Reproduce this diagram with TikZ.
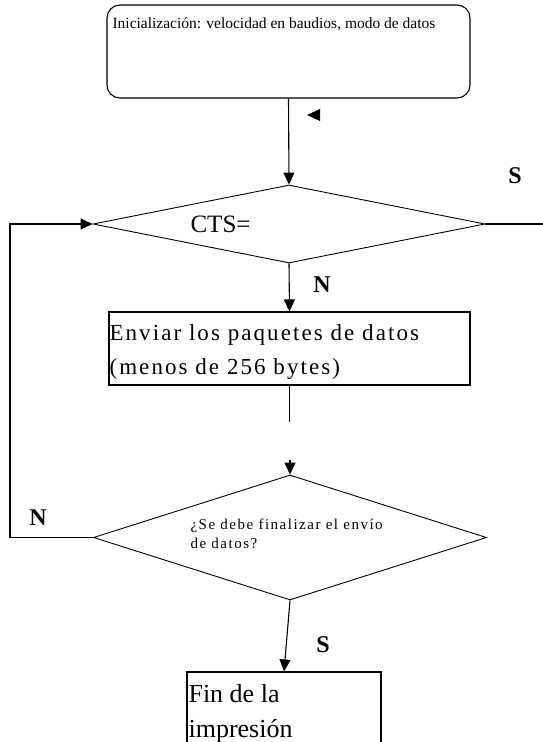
\documentclass[tikz,border=0pt]{standalone}
\usepackage{fontspec}
\setmainfont{Liberation Serif}
\usetikzlibrary{shapes.geometric,arrows.meta}
\newcommand\fsz[2]{\fontsize{#1}{#2}\selectfont}
\begin{document}
\begin{tikzpicture}[x=1pt,y=-1pt,
  line width=1.1pt,
  arr/.style={-{Triangle[length=12pt,width=11pt]}},
  dia/.style={draw, diamond, inner sep=0pt, line width=0.9pt},
  boxr/.style={draw, rectangle, inner sep=0pt},
  lbl/.style={font=\fsz{24}{24}\bfseries, inner sep=0pt},
  txt/.style={inner sep=0pt, anchor=base west, align=left}]
\useasboundingbox (0,0) rectangle (543,742);
\begin{scope}
\clip (0,0) rectangle (543,742);
% nodes
\node[boxr, rounded corners=13pt, minimum width=363pt, minimum height=93pt] (tb) at (288.5,51.5) {};
\node[txt, font=\fsz{15.5}{18}] (tbt) at (112,28) {Inicialización: velocidad en baudios, modo de datos};
\node[dia, minimum width=392pt, minimum height=78pt] (d1) at (289,224) {};
\node[txt, font=\fsz{25}{25}] (d1t) at (190,232) {CTS=};
\node[boxr, minimum width=361pt, minimum height=73pt] (b2) at (289.5,348.5) {};
\node[txt, font=\fsz{23}{34}\addfontfeature{LetterSpace=9}] (b2t) at (109,374) {Enviar los paquetes de datos\\(menos de 256 bytes)};
\node[dia, minimum width=393pt, minimum height=125pt] (d2) at (290,537.5) {};
\node[txt, font=\fsz{15}{19}\addfontfeature{LetterSpace=10}] (d2t) at (190,548) {¿Se debe finalizar el envío\\de datos?};
\node[boxr, minimum width=194pt, minimum height=88pt] (b3) at (284,716) {};
\node[txt, font=\fsz{26}{35}] (b3t) at (188,737) {Fin de la\\impresión};
% labels
\node[lbl] (s1) at (515,176) {S};
\node[lbl] (n1) at (322,285) {N};
\node[lbl] (n2) at (38,518) {N};
\node[lbl] (s2) at (323,645) {S};
% coordinates
\coordinate (rend) at (543,224);
\coordinate (b2end) at (289.5,422);
\coordinate (d2in) at (290,460);
\coordinate (lp) at (10,537.5);
% connectors
\draw[arr] (tb.south) -- (d1.north);
\draw[arr] (d1.south) -- (b2.north);
\draw (d1.east) -- (rend);
\draw (b2.south) -- (b2end);
\draw[arr] (d2in) -- (d2.north);
\draw[arr] (d2.west) -- (lp) |- (d1.west);
\draw[arr] (d2.south) -- (b3.north);
% stray arrowhead
\fill (307,115) -- (320,109) -- (320,121) -- cycle;
\end{scope}
\end{tikzpicture}
\end{document}
